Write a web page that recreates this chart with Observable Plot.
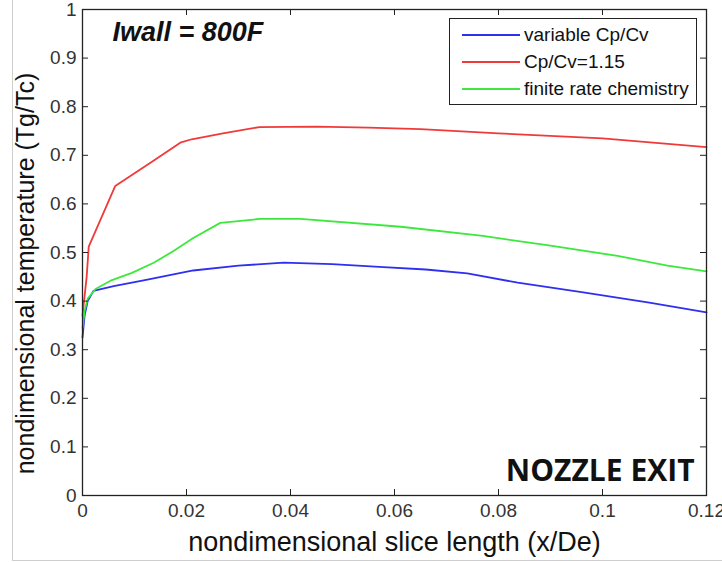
<!DOCTYPE html>
<html>
<head>
<meta charset="utf-8">
<script src="https://cdn.jsdelivr.net/npm/d3@7"></script>
<script src="https://cdn.jsdelivr.net/npm/@observablehq/plot@0.6"></script>
<style>
  html, body { margin: 0; padding: 0; background: #fff; }
  #wrap { position: relative; width: 722px; height: 562px; overflow: hidden; font-family: "Liberation Sans", Arial, sans-serif; }
  #edge { position: absolute; left: 12px; top: -2px; width: 720px; height: 563px; border-left: 1px solid #cfcfcf; border-bottom: 1px solid #cfcfcf; box-sizing: border-box; pointer-events: none; }
  #legend { position: absolute; left: 449px; top: 18px; width: 248px; height: 87px; box-sizing: border-box; border: 1.5px solid #222; background: #fff; }
  #legend .row { position: absolute; left: 0; height: 22px; display: flex; align-items: center; font-size: 19px; color: #111; white-space: nowrap; }
  #legend .sw { width: 58px; height: 0; border-top: 2px solid; margin-left: 12px; margin-right: 4px; }
</style>
</head>
<body>
<div id="wrap"><div id="chart"></div><div id="legend"></div><div id="edge"></div></div>
<script>
// ---- data ----
const seriesNames = ["variable Cp/Cv", "Cp/Cv=1.15", "finite rate chemistry"];
const seriesColors = ["#2f2ff0", "#f03a3a", "#3de83d"];

const xBlue = [0, 0.0004, 0.0010, 0.0021, 0.006, 0.012, 0.0213, 0.030, 0.0387, 0.048, 0.0579, 0.066, 0.074, 0.0837, 0.0963, 0.109, 0.12];
const yBlue = [0.325, 0.37, 0.40, 0.421, 0.431, 0.443, 0.463, 0.473, 0.479, 0.476, 0.470, 0.465, 0.457, 0.438, 0.418, 0.397, 0.377];

const xRed = [0, 0.0003, 0.0008, 0.0012, 0.0063, 0.0135, 0.0188, 0.021, 0.027, 0.034, 0.045, 0.055, 0.065, 0.08, 0.1, 0.12];
const yRed = [0.37, 0.40, 0.45, 0.512, 0.637, 0.688, 0.726, 0.733, 0.745, 0.758, 0.759, 0.757, 0.754, 0.745, 0.735, 0.717];

const xGreen = [0, 0.0004, 0.0010, 0.0025, 0.0054, 0.0095, 0.0137, 0.0175, 0.0213, 0.0265, 0.034, 0.0419, 0.0612, 0.077, 0.09, 0.1029, 0.1125, 0.12];
const yGreen = [0.345, 0.38, 0.405, 0.425, 0.442, 0.458, 0.479, 0.503, 0.53, 0.561, 0.569, 0.569, 0.553, 0.534, 0.514, 0.493, 0.473, 0.461];

const xTicks = [0, 0.02, 0.04, 0.06, 0.08, 0.1, 0.12];
const xTickLabels = ["0", "0.02", "0.04", "0.06", "0.08", "0.1", "0.12"];
const yTicks = [0, 0.1, 0.2, 0.3, 0.4, 0.5, 0.6, 0.7, 0.8, 0.9, 1];
const yTickLabels = ["0", "0.1", "0.2", "0.3", "0.4", "0.5", "0.6", "0.7", "0.8", "0.9", "1"];

const xLabel = "nondimensional slice length (x/De)";
const yLabel = "nondimensional temperature (Tg/Tc)";
const noteTop = "Iwall = 800F";
const noteBottom = "NOZZLE EXIT";

// ---- build table ----
const rows = [];
[[xBlue, yBlue], [xRed, yRed], [xGreen, yGreen]].forEach(([xs, ys], k) => {
  xs.forEach((x, i) => rows.push({series: seriesNames[k], x, y: ys[i]}));
});

const W = 722, H = 562;
const mL = 82, mR = 16, mT = 9, mB = 67;
const fw = W - mL - mR, fh = H - mT - mB;
const tk = 6;

const chart = Plot.plot({
  width: W, height: H,
  marginLeft: mL, marginRight: mR, marginTop: mT, marginBottom: mB,
  style: {fontFamily: "'Liberation Sans', Arial, sans-serif", background: "#fff"},
  x: {domain: [0, 0.12]},
  y: {domain: [0, 1]},
  color: {domain: seriesNames, range: seriesColors},
  marks: [
    Plot.line(rows, {x: "x", y: "y", z: "series", stroke: "series", strokeWidth: 1.8}),
    // inward ticks on all four sides
    Plot.ruleX(xTicks, {x: d => d, insetTop: fh - tk, stroke: "#222"}),
    Plot.ruleX(xTicks, {x: d => d, insetBottom: fh - tk, stroke: "#222"}),
    Plot.ruleY(yTicks, {y: d => d, insetRight: fw - tk, stroke: "#222"}),
    Plot.ruleY(yTicks, {y: d => d, insetLeft: fw - tk, stroke: "#222"}),
    Plot.frame({stroke: "#222", strokeWidth: 1.3}),
    Plot.axisX({ticks: xTicks, tickSize: 0, tickPadding: 8, fontSize: 19, fill: "#333",
      tickFormat: (d) => xTickLabels[xTicks.indexOf(d)], label: null}),
    Plot.axisY({ticks: yTicks, tickSize: 0, tickPadding: 6, fontSize: 19, fill: "#333",
      tickFormat: (d) => yTickLabels[yTicks.indexOf(d)], label: null}),
    Plot.text([xLabel], {text: d => d, frameAnchor: "bottom", textAnchor: "middle", lineAnchor: "middle", dy: 47, fontSize: 27, fill: "#111"}),
    Plot.text([yLabel], {text: d => d, frameAnchor: "left", textAnchor: "middle", lineAnchor: "middle", rotate: -90, dx: -57, dy: 21, fontSize: 25, fill: "#111"}),
    Plot.text([noteTop], {text: d => d, frameAnchor: "top-left", dx: 30, dy: 12, textAnchor: "start", lineAnchor: "top",
      fontSize: 27, fontWeight: "bold", fontStyle: "italic", fill: "#111"}),
    Plot.text([noteBottom], {text: d => d, frameAnchor: "bottom-right", dx: -12, dy: -15, textAnchor: "end", lineAnchor: "bottom",
      fontSize: 30, fontWeight: "bold", fontFamily: "'Open Sans', sans-serif", fill: "#111"})
  ]
});
document.getElementById("chart").appendChild(chart);

// legend (inside the axes, as in the reference)
const legend = document.getElementById("legend");
const rowTops = [5, 32, 59];
seriesNames.forEach((name, i) => {
  const r = document.createElement("div");
  r.className = "row";
  r.style.top = rowTops[i] + "px";
  const sw = document.createElement("span");
  sw.className = "sw";
  sw.style.borderTopColor = seriesColors[i];
  const t = document.createElement("span");
  t.textContent = name;
  r.appendChild(sw); r.appendChild(t);
  legend.appendChild(r);
});
</script>
</body>
</html>
